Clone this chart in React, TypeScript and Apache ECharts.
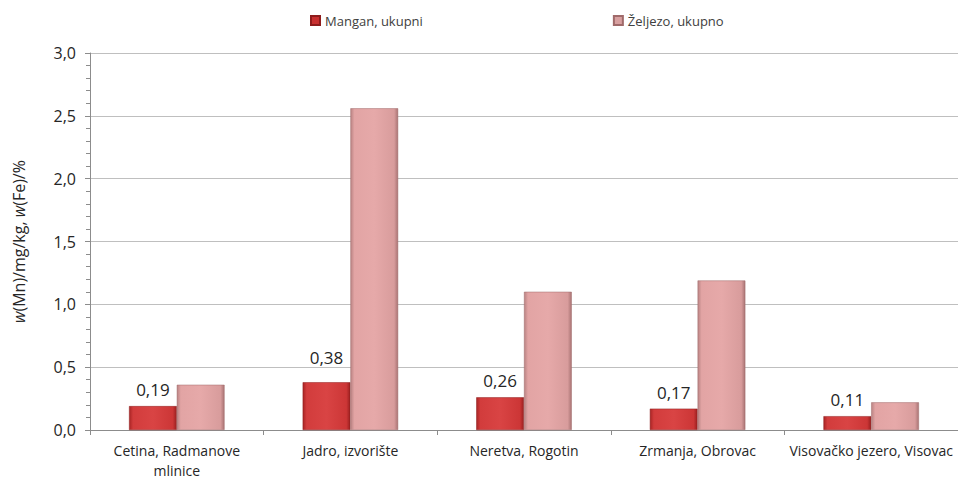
import React, { useEffect, useRef } from "react";
import * as echarts from "echarts";

const categories = [
  "Cetina, Radmanove\nmlinice",
  "Jadro, izvorište",
  "Neretva, Rogotin",
  "Zrmanja, Obrovac",
  "Visovačko jezero, Visovac",
];
const manganValues = [0.19, 0.38, 0.26, 0.17, 0.11];
const zeljezoValues = [0.36, 2.56, 1.1, 1.19, 0.22];
const seriesNames = ["Mangan, ukupni", "Željezo, ukupno"];

const FONT = "'Open Sans', 'Noto Sans', sans-serif";
const comma = (v: number, d: number) => v.toFixed(d).replace(".", ",");

export default function App() {
  const ref = useRef<HTMLDivElement>(null);
  useEffect(() => {
    if (!ref.current) return;
    const chart = echarts.init(ref.current, null, { renderer: "svg" });
    const mnColor = new echarts.graphic.LinearGradient(0, 0, 1, 0, [
      { offset: 0, color: "#a82424" },
      { offset: 0.08, color: "#d23c3c" },
      { offset: 0.5, color: "#d94444" },
      { offset: 0.92, color: "#cc3636" },
      { offset: 1, color: "#9a1f1f" },
    ]);
    const feColor = new echarts.graphic.LinearGradient(0, 0, 1, 0, [
      { offset: 0, color: "#b98383" },
      { offset: 0.08, color: "#e2a4a4" },
      { offset: 0.5, color: "#e6a9a9" },
      { offset: 0.92, color: "#d89c9c" },
      { offset: 1, color: "#a97474" },
    ]);
    // the 0,38 label sits a little higher above its bar in the original
    const mnData = manganValues.map((v, i) =>
      i === 1 ? { value: v, label: { distance: 16 } } : v
    );
    chart.setOption({
      animation: false,
      textStyle: { fontFamily: FONT },
      legend: {
        top: 9,
        left: 305,
        itemGap: 190,
        itemWidth: 9,
        itemHeight: 9,
        icon: "rect",
        textStyle: { fontSize: 13, color: "#404040", fontFamily: FONT },
        data: [
          { name: seriesNames[0], itemStyle: { color: "#c83030" } },
          { name: seriesNames[1], itemStyle: { color: "#d8a0a0" } },
        ],
      },
      grid: { left: 90, right: -3, top: 53, bottom: 47 },
      xAxis: {
        type: "category",
        data: categories,
        axisLine: { lineStyle: { color: "#8c8c8c" } },
        axisTick: { show: true, length: 5, alignWithLabel: false, lineStyle: { color: "#8c8c8c" } },
        axisLabel: {
          fontSize: 14,
          color: "#262626",
          margin: 10,
          lineHeight: 20,
          interval: 0,
          fontFamily: FONT,
        },
      },
      yAxis: {
        type: "value",
        min: 0,
        max: 3,
        interval: 0.5,
        name: "{i|w}(Mn)/mg/kg, {i|w}(Fe)/%",
        nameLocation: "middle",
        nameGap: 63,
        nameRotate: 90,
        nameTextStyle: {
          fontSize: 16,
          color: "#262626",
          fontFamily: FONT,
          rich: {
            i: { fontStyle: "italic", fontSize: 16, color: "#262626", fontFamily: FONT },
          },
        },
        axisLine: { show: true, lineStyle: { color: "#8c8c8c" } },
        axisTick: { show: true, length: 5, lineStyle: { color: "#8c8c8c" } },
        minorTick: { show: true, splitNumber: 5, length: 4, lineStyle: { color: "#8c8c8c" } },
        axisLabel: {
          fontSize: 16,
          color: "#262626",
          margin: 14,
          fontFamily: FONT,
          formatter: (v: number) => comma(v, 1),
        },
        splitLine: { lineStyle: { color: "#bfbfbf" } },
      },
      series: [
        {
          name: seriesNames[0],
          type: "bar",
          data: mnData,
          barGap: "0%",
          barCategoryGap: "45%",
          itemStyle: { color: mnColor, borderColor: "#8e1c1c", borderWidth: 0.5 },
          label: {
            show: true,
            position: "top",
            distance: 8,
            fontSize: 17,
            color: "#262626",
            fontFamily: FONT,
            formatter: (p: any) => comma(p.value, 2),
          },
        },
        {
          name: seriesNames[1],
          type: "bar",
          data: zeljezoValues,
          barGap: "0%",
          barCategoryGap: "45%",
          itemStyle: { color: feColor, borderColor: "#a06a6a", borderWidth: 0.5 },
        },
      ],
    });
    return () => chart.dispose();
  }, []);
  return (
    <div
      ref={ref}
      style={{ position: "fixed", left: 0, top: 0, width: 958, height: 480, background: "#fff" }}
    />
  );
}
